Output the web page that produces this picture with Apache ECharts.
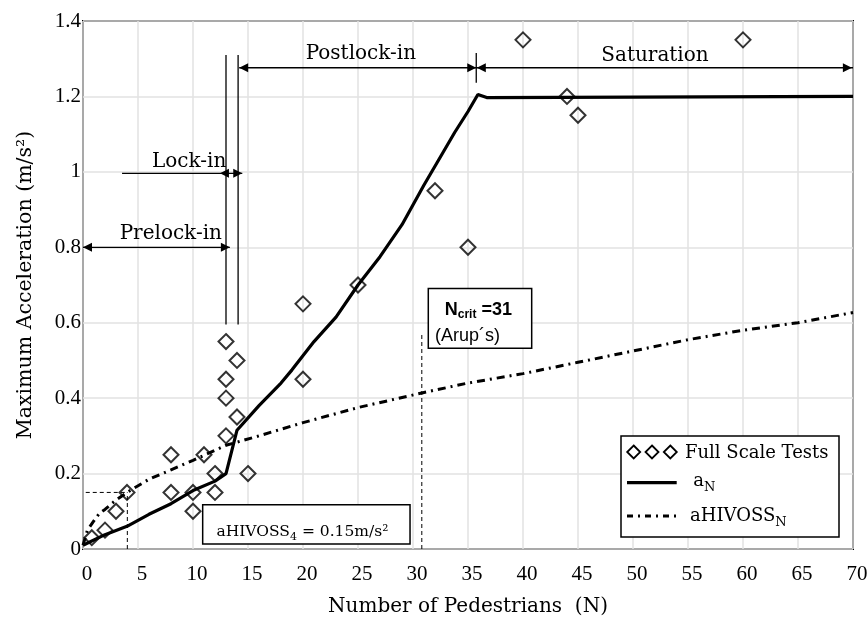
<!DOCTYPE html>
<html>
<head>
<meta charset="utf-8">
<script src="https://cdn.jsdelivr.net/npm/echarts@6/dist/echarts.min.js"></script>
<style>html,body{margin:0;padding:0;background:#fff}#c{width:868px;height:619px}</style>
</head>
<body>
<div id="c"></div>
<script>
// ---- Data ----
const testN = [0.8, 2, 3, 4, 8, 8, 10, 10, 11, 12, 12, 13, 13, 13, 13, 14, 14, 15, 20, 20, 25, 32, 35, 40, 44, 45, 60];
const testA = [0.03, 0.05, 0.10, 0.15, 0.25, 0.15, 0.15, 0.10, 0.25, 0.20, 0.15, 0.55, 0.45, 0.40, 0.30, 0.50, 0.35, 0.20, 0.65, 0.45, 0.70, 0.95, 0.80, 1.35, 1.20, 1.15, 1.35];

const aN_N = [0, 2, 4, 6, 8, 10, 12, 13, 14, 16, 18, 19, 21, 23, 25, 27, 29, 31, 32.7, 33.8, 35, 35.9, 36.7, 70];
const aN_A = [0.01, 0.038, 0.06, 0.092, 0.12, 0.155, 0.18, 0.2, 0.315, 0.38, 0.44, 0.475, 0.55, 0.615, 0.70, 0.775, 0.86, 0.965, 1.05, 1.105, 1.16, 1.205, 1.197, 1.20];

const hvN = [0, 0.4, 1, 1.5, 2, 3, 4, 6, 8, 10, 13, 16, 20, 25, 31, 35, 40, 45, 50, 55, 60, 65, 70];
const hvA = [0.01, 0.05, 0.075, 0.095, 0.105, 0.13, 0.15, 0.185, 0.21, 0.235, 0.275, 0.30, 0.335, 0.375, 0.415, 0.44, 0.465, 0.495, 0.525, 0.555, 0.58, 0.60, 0.627];

const xName = 'Number of Pedestrians  (N)';
const yName = 'Maximum Acceleration (m/s²)';
const seriesNames = ['Full Scale Tests', 'aN', 'aHIVOSS'];

// ---- Chart ----
const SERIF = 'DejaVu Serif';
const TICKF = 'Liberation Serif';
const zip = (a, b) => a.map((v, i) => [v, b[i]]);

const chart = echarts.init(document.getElementById('c'));
const option = {
  animation: false,
  backgroundColor: '#fff',
  grid: { left: 83, right: 15, top: 21, bottom: 70, outerBoundsMode: 'none', containLabel: false,
          show: true, borderColor: '#000', borderWidth: 2, backgroundColor: '#fff' },
  xAxis: {
    type: 'value', min: 0, max: 70, interval: 5,
    name: xName, nameLocation: 'middle', nameGap: 48,
    nameTextStyle: { fontFamily: SERIF, fontSize: 20, color: '#000' },
    axisLine: { show: false }, axisTick: { show: false },
    axisLabel: { fontFamily: TICKF, fontSize: 21, color: '#000', margin: 15, padding: [0, 0, 0, 8] },
    splitLine: { show: true, lineStyle: { color: '#e2e2e2', width: 1.5 } }
  },
  yAxis: {
    type: 'value', min: 0, max: 1.4, interval: 0.2,
    name: yName, nameLocation: 'middle', nameGap: 47, nameRotate: 90,
    nameTextStyle: { fontFamily: SERIF, fontSize: 20.5, color: '#000' },
    axisLine: { show: false }, axisTick: { show: false },
    axisLabel: { fontFamily: TICKF, fontSize: 21, color: '#000', margin: 2, padding: [6, 0, 0, 0] },
    splitLine: { show: true, lineStyle: { color: '#e2e2e2', width: 1.5 } }
  },
  series: [
    { type: 'line', name: seriesNames[2], data: zip(hvN, hvA), symbol: 'none', z: 3,
      lineStyle: { color: '#000', width: 3, type: [8, 5, 2, 5] } },
    { type: 'line', name: seriesNames[1], data: zip(aN_N, aN_A), symbol: 'none', z: 4,
      lineStyle: { color: '#000', width: 3.2 } },
    { type: 'scatter', name: seriesNames[0], data: zip(testN, testA), symbol: 'diamond', symbolSize: 15, z: 5,
      itemStyle: { color: 'rgba(255,255,255,0)', borderColor: '#000', borderWidth: 2 } }
  ]
};
chart.setOption(option);

// ---- Annotations (positioned through the chart's own scales) ----
const P = (x, y) => chart.convertToPixel({ gridIndex: 0 }, [x, y]);
const g = [];
function seg(a, b, w, dash) {
  const p = P(a[0], a[1]), q = P(b[0], b[1]);
  g.push({ type: 'line', z: 10, shape: { x1: p[0], y1: p[1], x2: q[0], y2: q[1] },
    style: { stroke: '#000', lineWidth: w, lineDash: dash || null } });
}
function head(t, d) {
  const p = P(t[0], t[1]); const L = 9, h = 4.5;
  g.push({ type: 'polygon', z: 10, shape: { points: [[p[0], p[1]], [p[0] - d * L, p[1] - h], [p[0] - d * L, p[1] + h]] },
    style: { fill: '#000' } });
}
function box(a, b) {
  const p = P(a[0], a[1]), q = P(b[0], b[1]);
  g.push({ type: 'rect', z: 9, shape: { x: p[0], y: p[1], width: q[0] - p[0], height: q[1] - p[1] },
    style: { fill: '#fff', stroke: '#000', lineWidth: 1.5 } });
}
function label(txt, at, fs, fam, extra) {
  const p = P(at[0], at[1]);
  g.push({ type: 'text', z: 11, x: p[0], y: p[1] - 0.3 * fs,
    style: Object.assign({ text: txt, fontSize: fs, fontFamily: fam, fill: '#000', align: 'center', verticalAlign: 'middle' }, extra || {}) });
}

// phase boundary lines
seg([13, 0.595], [13, 1.31], 1.3);
seg([14.1, 0.595], [14.1, 1.31], 1.3);
// Prelock-in
seg([0, 0.8], [13.35, 0.8], 1.3); head([0, 0.8], -1); head([13.35, 0.8], 1);
label('Prelock-in', [7.98, 0.819], 20, SERIF);
// Lock-in
seg([3.55, 0.996], [14.48, 0.996], 1.3); head([12.45, 0.996], -1); head([14.48, 0.996], 1);
label('Lock-in', [9.65, 1.012], 20, SERIF);
// Postlock-in / Saturation
seg([14.2, 1.276], [70, 1.276], 1.3); head([14.2, 1.276], -1); head([35.75, 1.276], 1);
head([35.8, 1.276], -1); head([69.9, 1.276], 1);
seg([35.75, 1.236], [35.75, 1.315], 1.3);
label('Postlock-in', [25.26, 1.296], 20, SERIF);
label('Saturation', [52.0, 1.293], 20, SERIF);
// dashed guides
seg([0.25, 0.15], [4.03, 0.15], 1, [4, 3]);
seg([4.03, 0], [4.03, 0.15], 1, [4, 3]);
seg([30.8, 0], [30.8, 0.57], 1, [4, 3]);
// aHIVOSS4 box
box([10.88, 0.117], [29.73, 0.013]);
label('{m|aHIVOSS}{s|4}{m| = 0.15m/s²}', [19.95, 0.0334], 15.5, SERIF, {
  rich: { m: { fontSize: 15.5, fontFamily: SERIF, fill: '#000' }, s: { fontSize: 11, fontFamily: SERIF, fill: '#000', padding: [10, 0, 0, 0] } } });
// Ncrit box
box([31.39, 0.691], [40.79, 0.532]);
label('{b|N}{s|crit}{b| =31}', [35.94, 0.62], 18, 'Liberation Sans', {
  rich: { b: { fontSize: 18, fontWeight: 'bold', fontFamily: 'Liberation Sans', fill: '#000' },
          s: { fontSize: 12, fontWeight: 'bold', fontFamily: 'Liberation Sans', fill: '#000', padding: [9, 0, 0, 0] } } });
label('(Arup´s)', [34.95, 0.55], 18, 'Liberation Sans');

// ---- Legend (drawn as a framed key) ----
const lg = [];
lg.push({ type: 'rect', z: 20, shape: { x: 621, y: 436, width: 218, height: 101 }, style: { fill: '#fff', stroke: '#000', lineWidth: 1.5 } });
[633.7, 652, 670.3].forEach(cx => lg.push({ type: 'polygon', z: 21,
  shape: { points: [[cx, 452 - 6.5], [cx + 6.5, 452], [cx, 452 + 6.5], [cx - 6.5, 452]] },
  style: { fill: '#fff', stroke: '#000', lineWidth: 1.8 } }));
lg.push({ type: 'line', z: 21, shape: { x1: 627, y1: 482.7, x2: 676.7, y2: 482.7 }, style: { stroke: '#000', lineWidth: 3.2 } });
lg.push({ type: 'line', z: 21, shape: { x1: 627, y1: 516, x2: 676.7, y2: 516 }, style: { stroke: '#000', lineWidth: 3, lineDash: [6, 5, 2, 5] } });
const lrich = { m: { fontSize: 18, fontFamily: SERIF, fill: '#000' }, s: { fontSize: 13, fontFamily: SERIF, fill: '#000', padding: [12, 0, 0, 0] } };
lg.push({ type: 'text', z: 22, x: 685, y: 452.9, style: { text: seriesNames[0], fontSize: 18, fontFamily: SERIF, fill: '#000', align: 'left', verticalAlign: 'middle' } });
lg.push({ type: 'text', z: 22, x: 693.3, y: 481.3, style: { text: '{m|a}{s|N}', rich: lrich, align: 'left', verticalAlign: 'middle' } });
lg.push({ type: 'text', z: 22, x: 690, y: 516.3, style: { text: '{m|aHIVOSS}{s|N}', rich: lrich, align: 'left', verticalAlign: 'middle' } });

chart.setOption({ graphic: g.concat(lg) });
</script>
</body>
</html>
